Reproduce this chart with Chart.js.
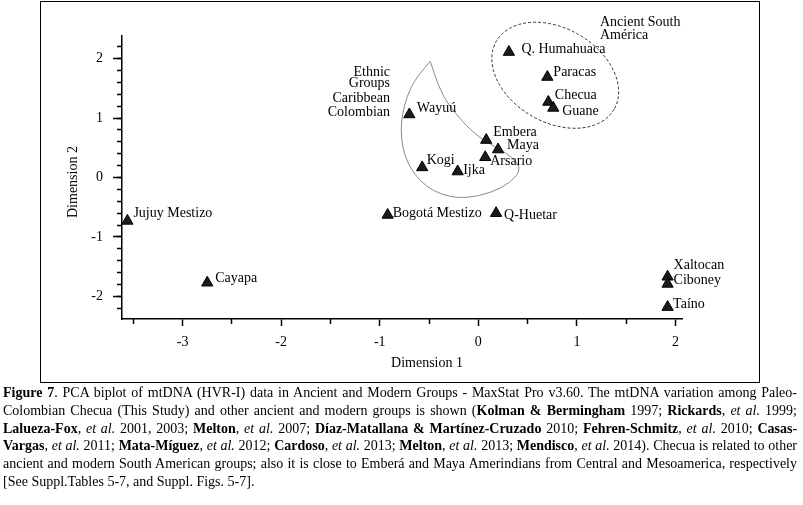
<!DOCTYPE html>
<html>
<head>
<meta charset="utf-8">
<script src="https://cdn.jsdelivr.net/npm/chart.js@4.4.1/dist/chart.umd.min.js"></script>
<style>
  body { margin: 0; background: #fff; color: #000; font-family: "Liberation Serif", serif; }
  #wrap { position: relative; width: 803px; height: 505px; overflow: hidden; }
  #frame { position: absolute; left: 40px; top: 1px; width: 720px; height: 382px; box-sizing: border-box; border: 1.5px solid #000; }
  #chart { position: absolute; left: 0; top: 0; }
  .note { position: absolute; font-size: 14px; line-height: 14px; white-space: nowrap; }
  .right { text-align: right; }
  #caption { position: absolute; left: 3px; top: 384px; width: 794px; font-size: 14px; line-height: 17.8px; }
  #caption div { text-align: justify; text-align-last: justify; white-space: nowrap; }
  #caption div.last { text-align-last: left; }
</style>
</head>
<body>
<div id="wrap">
  <div id="frame"></div>
  <canvas id="chart" width="803" height="385"></canvas>

  <div class="note right" style="right:413px; top:65px;">Ethnic</div>
  <div class="note right" style="right:413px; top:76px;">Groups</div>
  <div class="note right" style="right:413px; top:91px;">Caribbean</div>
  <div class="note right" style="right:413px; top:105px;">Colombian</div>
  <div class="note" style="left:600px; top:15px;">Ancient South</div>
  <div class="note" style="left:600px; top:28px;">América</div>
  <div class="note" style="left:427px; top:363px; transform:translate(-50%,-50%);">Dimension 1</div>
  <div class="note" style="left:73px; top:182px; transform:translate(-50%,-50%) rotate(-90deg);">Dimension 2</div>

  <div id="caption">
    <div><b>Figure 7</b>. PCA biplot of mtDNA (HVR-I) data in Ancient and Modern Groups - MaxStat Pro v3.60. The mtDNA variation among Paleo-</div>
    <div>Colombian Checua (This Study) and other ancient and modern groups is shown (<b>Kolman &amp; Bermingham</b> 1997; <b>Rickards</b>, <i>et al.</i> 1999;</div>
    <div><b>Lalueza-Fox</b>, <i>et al.</i> 2001, 2003; <b>Melton</b>, <i>et al.</i> 2007; <b>Díaz-Matallana &amp; Martínez-Cruzado</b> 2010; <b>Fehren-Schmitz</b>, <i>et al.</i> 2010; <b>Casas-</b></div>
    <div><b>Vargas</b>, <i>et al.</i> 2011; <b>Mata-Míguez</b>, <i>et al.</i> 2012; <b>Cardoso</b>, <i>et al.</i> 2013; <b>Melton</b>, <i>et al.</i> 2013; <b>Mendisco</b>, <i>et al.</i> 2014). Checua is related to other</div>
    <div>ancient and modern South American groups; also it is close to Emberá and Maya Amerindians from Central and Mesoamerica, respectively</div>
    <div class="last">[See Suppl.Tables 5-7, and Suppl. Figs. 5-7].</div>
  </div>
</div>

<script>
// groups and their PCA scores
const groups = ["Jujuy Mestizo", "Cayapa", "Bogotá Mestizo", "Q-Huetar", "Xaltocan", "Ciboney", "Taíno",
  "Wayuú", "Kogi", "Ijka", "Arsario", "Embera", "Maya", "Q. Humahuaca", "Paracas", "Checua", "Guane"];
const dim1 = [-3.56, -2.75, -0.92, 0.18, 1.92, 1.92, 1.92, -0.70, -0.57, -0.21, 0.07, 0.08, 0.20, 0.31, 0.70, 0.71, 0.76];
const dim2 = [-0.73, -1.77, -0.63, -0.60, -1.67, -1.79, -2.18, 1.06, 0.17, 0.10, 0.34, 0.63, 0.47, 2.11, 1.69, 1.27, 1.17];

// where each name sits relative to its marker (px)
const labelDx = [6, 8, 5, 8, 6, 6, 5.5, 7.5, 4.5, 5.5, 5, 7, 9, 12.5, 6, 6.5, 9];
const labelDy = [-7.5, -4.5, -2, 2, -11, -4, -3, -6, -7, -1, 4, -8, -4, -3, -5, -7, 3];

const xTickLabels = [-3, -2, -1, 0, 1, 2];
const xMinorTicks = [-3.5, -2.5, -1.5, -0.5, 0.5, 1.5];
const yTickLabels = [-2, -1, 0, 1, 2];
const yMinorTicks = [];
for (let v = -22; v <= 22; v += 2) yMinorTicks.push(v / 10);

// group outlines in data units
const teardrop = [
  [-0.488, 1.956], [-0.609, 1.721], [-0.690, 1.503], [-0.751, 1.217], [-0.782, 0.931], [-0.782, 0.663],
  [-0.751, 0.394], [-0.690, 0.159], [-0.589, -0.060], [-0.457, -0.228], [-0.285, -0.328], [-0.113, -0.345],
  [0.121, -0.261], [0.324, -0.093], [0.446, 0.159], [0.294, 0.411], [0.091, 0.579], [-0.082, 0.798],
  [-0.234, 1.083], [-0.356, 1.352], [-0.447, 1.738], [-0.488, 1.956]
];
const ellipseCenter = [0.78, 1.72];

const axisFont = { family: "Liberation Serif", size: 14 };

const outlines = {
  id: "outlines",
  beforeDatasetsDraw(chart) {
    const { ctx, scales } = chart;
    const px = (p) => [scales.x.getPixelForValue(p[0]), scales.y.getPixelForValue(p[1])];
    ctx.save();
    // teardrop, sharp tip, smooth elsewhere
    const pts = teardrop.map(px);
    ctx.beginPath();
    ctx.moveTo(pts[0][0], pts[0][1]);
    for (let i = 1; i < pts.length - 2; i++) {
      const mx = (pts[i][0] + pts[i + 1][0]) / 2;
      const my = (pts[i][1] + pts[i + 1][1]) / 2;
      ctx.quadraticCurveTo(pts[i][0], pts[i][1], mx, my);
    }
    const n = pts.length;
    ctx.quadraticCurveTo(pts[n - 2][0], pts[n - 2][1], pts[n - 1][0], pts[n - 1][1]);
    ctx.strokeStyle = "#8a8a8a";
    ctx.lineWidth = 1;
    ctx.stroke();
    // dashed ellipse
    const c = px(ellipseCenter);
    ctx.beginPath();
    ctx.ellipse(c[0], c[1], 68, 47, Math.PI / 6, 0, Math.PI * 2);
    ctx.setLineDash([3, 2]);
    ctx.strokeStyle = "#333";
    ctx.stroke();
    ctx.restore();
  },
  afterDatasetsDraw(chart) {
    const { ctx } = chart;
    const meta = chart.getDatasetMeta(0);
    ctx.save();
    ctx.font = '14px "Liberation Serif"';
    ctx.fillStyle = "#000";
    ctx.textAlign = "left";
    ctx.textBaseline = "middle";
    meta.data.forEach((pt, i) => {
      ctx.fillText(groups[i], pt.x + labelDx[i], pt.y + labelDy[i]);
    });
    ctx.restore();
  }
};

const ctx = document.getElementById("chart").getContext("2d");
const chart = new Chart(ctx, {
  type: "scatter",
  data: {
    datasets: [
      {
        data: groups.map((g, i) => ({ x: dim1[i], y: dim2[i] })),
        pointStyle: "triangle",
        pointRadius: 6.5,
        backgroundColor: "#1c1c1c",
        borderColor: "#000",
        borderWidth: 1,
        xAxisID: "x",
        yAxisID: "y",
      },
    ],
  },
  options: {
    responsive: false,
    animation: false,
    layout: { padding: { left: 40, right: 121, top: 36, bottom: 36 } },
    scales: {
      x: {
        type: "linear",
        position: "bottom",
        weight: 1,
        min: -3.615,
        max: 2.066,
        afterBuildTicks: (s) => { s.ticks = xTickLabels.map((v) => ({ value: v })); },
        afterFit: (s) => { s.height = 30; },
        grid: { drawOnChartArea: false, tickLength: 7, tickColor: "#000", tickWidth: 1.5 },
        border: { color: "#000", width: 1.5 },
        ticks: { color: "#000", font: axisFont, padding: 8, autoSkip: false, maxRotation: 0 },
      },
      xMinor: {
        type: "linear",
        position: "bottom",
        weight: 0,
        min: -3.615,
        max: 2.066,
        afterBuildTicks: (s) => { s.ticks = xMinorTicks.map((v) => ({ value: v })); },
        afterFit: (s) => { s.height = 0; },
        grid: { drawOnChartArea: false, tickLength: 5, tickColor: "#000", tickWidth: 1.5 },
        border: { display: false },
        ticks: { display: false },
      },
      y: {
        type: "linear",
        position: "left",
        weight: 1,
        min: -2.38,
        max: 2.38,
        afterBuildTicks: (s) => { s.ticks = yTickLabels.map((v) => ({ value: v })); },
        afterFit: (s) => { s.width = 82; },
        grid: { drawOnChartArea: false, tickLength: 9, tickColor: "#000", tickWidth: 1.5 },
        border: { color: "#000", width: 1.5 },
        ticks: { color: "#000", font: axisFont, padding: 10, autoSkip: false },
      },
      yMinor: {
        type: "linear",
        position: "left",
        weight: 0,
        min: -2.38,
        max: 2.38,
        afterBuildTicks: (s) => { s.ticks = yMinorTicks.map((v) => ({ value: v })); },
        afterFit: (s) => { s.width = 0; },
        grid: { drawOnChartArea: false, tickLength: 5, tickColor: "#000", tickWidth: 1.5 },
        border: { display: false },
        ticks: { display: false },
      },
    },
    plugins: {
      legend: { display: false },
      tooltip: { enabled: false },
    },
  },
  plugins: [outlines],
});
</script>
</body>
</html>
